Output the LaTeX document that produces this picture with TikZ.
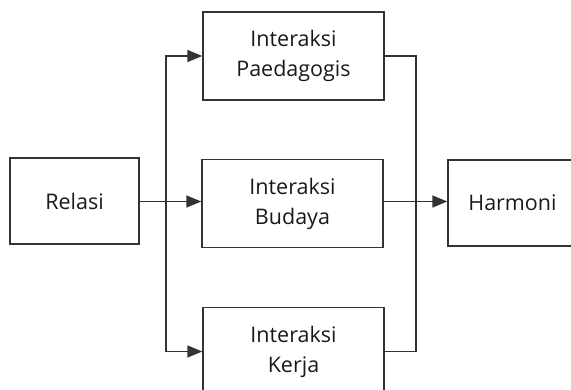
\documentclass[tikz,border=0pt]{standalone}
\usepackage{fontspec}
\setmainfont{Open Sans}
\usetikzlibrary{arrows.meta}

\begin{document}
\begin{tikzpicture}[x=1pt, y=-1pt,
    box/.style={draw=black!80, line width=1.4pt, align=center, inner sep=0pt, text=black!90,
        font=\fontsize{21.5}{30}\selectfont},
    smallbox/.style={box, minimum width=129pt, minimum height=86pt},
    widebox/.style={box, minimum width=181pt, minimum height=88pt},
    link/.style={draw=black!80, line width=1.4pt},
    tip/.style={link, -{Triangle[length=15pt, width=12pt]}}]
    \pgfmathsetmacro{\forkx}{166}
    \pgfmathsetmacro{\joinx}{416}

    \clip (0, 0) rectangle (571, 389);

    \node [smallbox] (relasi) at (74.5, 201) {Relasi};
    \node [widebox] (paed) at (293.5, 56) {Interaksi\\Paedagogis};
    \node [widebox] (budaya) at (292.5, 203.5) {Interaksi\\Budaya};
    \node [widebox] (kerja) at (293.5, 351.5) {Interaksi\\Kerja};
    \node [smallbox] (harmoni) at (512.5, 203) {Harmoni};

    \coordinate (fork) at (\forkx, 201.5);
    \coordinate (join) at (\joinx, 201.5);

    % left side
    \draw [tip] (relasi.east |- fork) -- (fork -| budaya.west);
    \draw [tip] (fork) |- (paed.west);
    \draw [tip] (fork) |- (kerja.west);

    % right side
    \draw [link] (paed.east) -| (join) |- (kerja.east);
    \draw [tip] (budaya.east |- join) -- (join -| harmoni.west);
\end{tikzpicture}
\end{document}
